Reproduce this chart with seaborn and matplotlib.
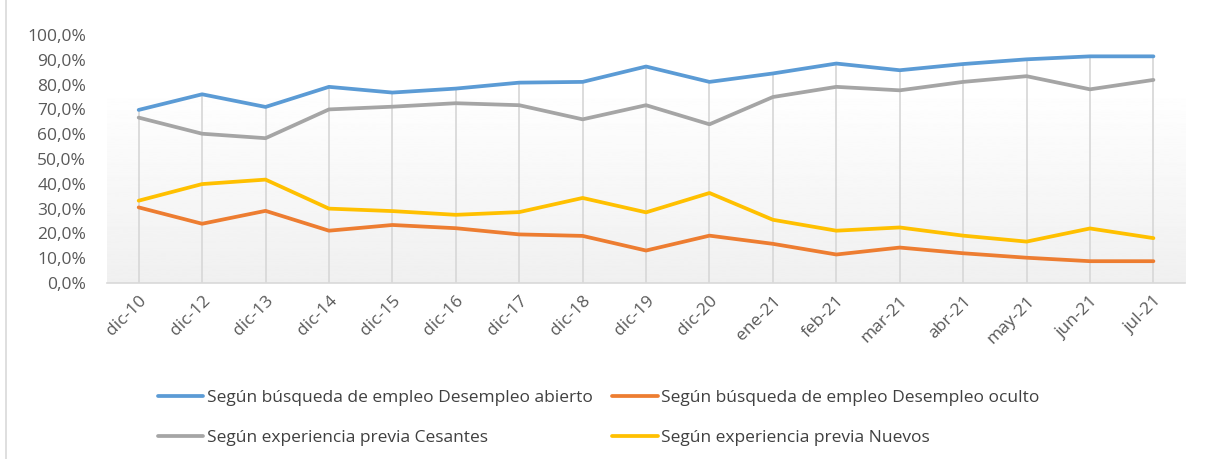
import numpy as np
import pandas as pd
import seaborn as sns
import matplotlib.pyplot as plt
from matplotlib.lines import Line2D
from matplotlib.ticker import FuncFormatter

periodos = ['dic-10', 'dic-12', 'dic-13', 'dic-14', 'dic-15', 'dic-16', 'dic-17',
            'dic-18', 'dic-19', 'dic-20', 'ene-21', 'feb-21', 'mar-21', 'abr-21',
            'may-21', 'jun-21', 'jul-21']

abierto = [69.8, 76.1, 71.0, 79.1, 76.8, 78.4, 80.8, 81.1, 87.3, 81.1, 84.5,
           88.5, 85.8, 88.3, 90.2, 91.4, 91.4]
oculto = [30.5, 23.9, 29.1, 21.1, 23.4, 22.1, 19.6, 19.0, 13.1, 19.1, 15.8,
          11.5, 14.3, 12.0, 10.2, 8.8, 8.8]
cesantes = [66.7, 60.2, 58.4, 70.0, 71.1, 72.5, 71.7, 66.0, 71.7, 64.0, 75.0,
            79.1, 77.7, 81.1, 83.4, 78.1, 81.9]
nuevos = [33.2, 39.9, 41.7, 30.0, 29.0, 27.5, 28.6, 34.3, 28.5, 36.3, 25.5,
          21.1, 22.4, 19.1, 16.7, 22.0, 18.1]

series = {
    'Según búsqueda de empleo Desempleo abierto': abierto,
    'Según búsqueda de empleo Desempleo oculto': oculto,
    'Según experiencia previa Cesantes': cesantes,
    'Según experiencia previa Nuevos': nuevos,
}
colores = ['#5B9BD5', '#ED7D31', '#A5A5A5', '#FFC000']

rows = []
for nombre, vals in series.items():
    for i, v in enumerate(vals):
        rows.append({'pos': i, 'serie': nombre, 'valor': v / 100})
df = pd.DataFrame(rows)

sns.set_style('white')
plt.rcParams['font.family'] = ['Open Sans', 'DejaVu Sans']

fig = plt.figure(figsize=(12.06, 4.59), dpi=100)
ax = fig.add_axes([0.0887, 0.3834, 0.894, 0.5403])

# fondo degradado del area de trazado
grad = np.linspace(0.94, 1.0, 256).reshape(-1, 1)
ax.imshow(grad, extent=(-0.5, 16.5, 0, 0.795), origin='lower', cmap='gray',
          vmin=0, vmax=1, aspect='auto', zorder=0)

# lineas de caida (desde el maximo hasta el eje)
maximos = df.groupby('pos')['valor'].max()
ax.vlines(maximos.index, 0, maximos.values, color='#D9D9D9', lw=1.3, zorder=1)

sns.lineplot(data=df, x='pos', y='valor', hue='serie', palette=colores,
             linewidth=2.7, ax=ax, zorder=3, legend=False)

ax.set_xlim(-0.5, 16.5)
ax.set_ylim(0, 1)
ax.set_yticks(np.arange(0, 1.01, 0.1))
ax.yaxis.set_major_formatter(FuncFormatter(lambda v, p: f'{v*100:.1f}%'.replace('.', ',')))
ax.set_xticks(range(len(periodos)))
ax.set_xticklabels(periodos, rotation=45, ha='right', va='top', rotation_mode='anchor')
ax.tick_params(axis='y', length=0, pad=15, labelsize=12.5, labelcolor='#595959')
ax.tick_params(axis='x', length=0, pad=7, labelsize=12.5, labelcolor='#595959')
ax.set_xlabel('')
ax.set_ylabel('')
for s in ['top', 'right', 'left']:
    ax.spines[s].set_visible(False)
ax.spines['bottom'].set_color('#D9D9D9')
ax.spines['bottom'].set_linewidth(1.2)

# leyenda en dos filas (orden por filas como en el original)
nombres = list(series.keys())
orden = [0, 2, 1, 3]
handles = [Line2D([], [], color=colores[i], lw=2.7) for i in orden]
fig.legend(handles, [nombres[i] for i in orden], ncol=2, loc='center left',
           bbox_to_anchor=(0.118, 0.089), frameon=False, fontsize=12.5,
           labelcolor='#404040', handlelength=2.6, handletextpad=0.2,
           columnspacing=1.15, labelspacing=1.35)

# borde izquierdo del grafico
fig.add_artist(Line2D([0.005, 0.005], [0, 1], transform=fig.transFigure,
                      color='#D9D9D9', lw=1.2))

fig.savefig('out.png', dpi=100)
